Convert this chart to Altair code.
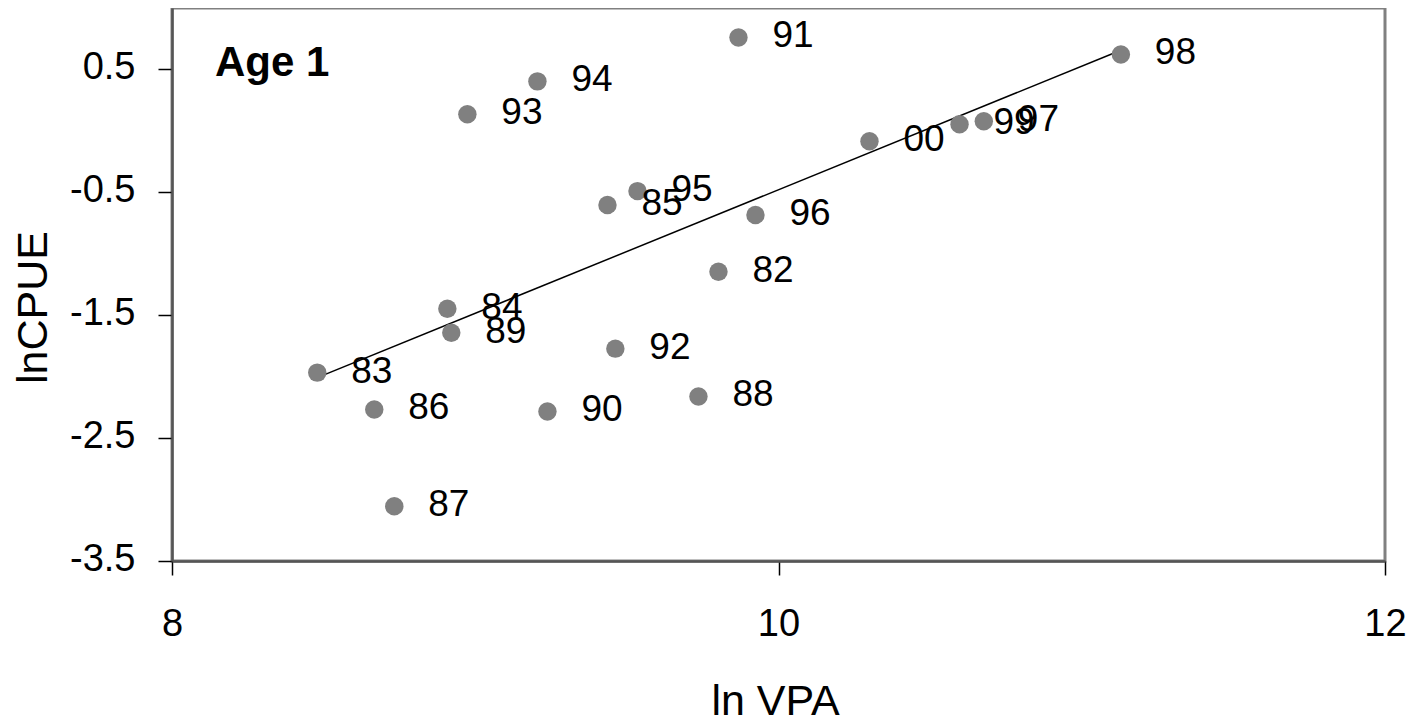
import altair as alt
import pandas as pd

years = ["82", "83", "84", "85", "86", "87", "88", "89", "90", "91",
         "92", "93", "94", "95", "96", "97", "98", "99", "00"]
ln_vpa = [9.802, 8.479, 8.908, 9.436, 8.667, 8.733, 9.736, 8.921, 9.238, 9.868,
          9.462, 8.974, 9.205, 9.535, 9.924, 10.677, 11.129, 10.597, 10.300]
ln_cpue = [-1.147, -1.967, -1.447, -0.603, -2.267, -3.054, -2.161, -1.642, -2.283, 0.760,
           -1.772, 0.135, 0.403, -0.490, -0.685, 0.078, 0.622, 0.054, -0.084]

y_ticks = [-3.5, -2.5, -1.5, -0.5, 0.5]
x_ticks = [8, 10, 12]

df = pd.DataFrame({"year": years, "vpa": ln_vpa, "cpue": ln_cpue})

FONT = "Liberation Sans"

x_enc = alt.X("vpa:Q", scale=alt.Scale(domain=[8, 12], nice=False, zero=False),
              axis=alt.Axis(values=x_ticks, title="ln VPA", grid=False,
                            labelFontSize=38, labelFont=FONT, labelColor="black",
                            labelBaseline="alphabetic", labelPadding=60,
                            labelFlush=False, labelOverlap=False,
                            tickSize=14, tickColor="black", tickWidth=1.5,
                            domainColor="#555555", domainWidth=2.5,
                            titleFontSize=43, titleFont=FONT, titleFontWeight="normal",
                            titleColor="black", titleBaseline="alphabetic",
                            titleX=603, titleY=153, titleAlign="center"))
y_enc = alt.Y("cpue:Q", scale=alt.Scale(domain=[-3.5, 1.0], nice=False, zero=False),
              axis=alt.Axis(values=y_ticks, title="lnCPUE", grid=False,
                            labelExpr="datum.value < 0 ? '-' + format(-datum.value, '.1f') : format(datum.value, '.1f')",
                            labelFontSize=38, labelFont=FONT, labelColor="black",
                            labelPadding=23, labelOffset=-2,
                            labelFlush=False, labelOverlap=False,
                            tickSize=14, tickColor="black", tickWidth=1.5,
                            domainColor="#555555", domainWidth=2.5,
                            titleFontSize=43, titleFont=FONT, titleFontWeight="normal",
                            titleColor="black", titleBaseline="alphabetic",
                            titleAngle=-90, titleX=-126, titleY=299, titleAlign="center"))

base = alt.Chart(df)

trend = base.transform_regression("vpa", "cpue").mark_line(
    color="black", strokeWidth=1.5
).encode(x=x_enc, y=y_enc)

points = base.mark_circle(size=340, color="#808080", opacity=1).encode(x=x_enc, y=y_enc)

labels = base.mark_text(align="left", baseline="middle", dx=34, dy=-1,
                        fontSize=37, font=FONT, color="black").encode(
    x=x_enc, y=y_enc, text="year:N")

age = alt.Chart(pd.DataFrame({"t": ["Age 1"]})).mark_text(
    align="left", baseline="alphabetic", fontSize=42, fontWeight="bold",
    font=FONT, color="black"
).encode(x=alt.value(43), y=alt.value(68), text="t:N")

chart = alt.layer(trend, points, labels, age).properties(
    width=1213, height=553,
    autosize=alt.AutoSizeParams(type="none"),
    padding={"left": 164, "top": 0, "right": 30, "bottom": 162},
).configure_view(stroke="#808080", strokeWidth=3)

chart.save("out.html", embed_options={"renderer": "svg", "actions": False})
